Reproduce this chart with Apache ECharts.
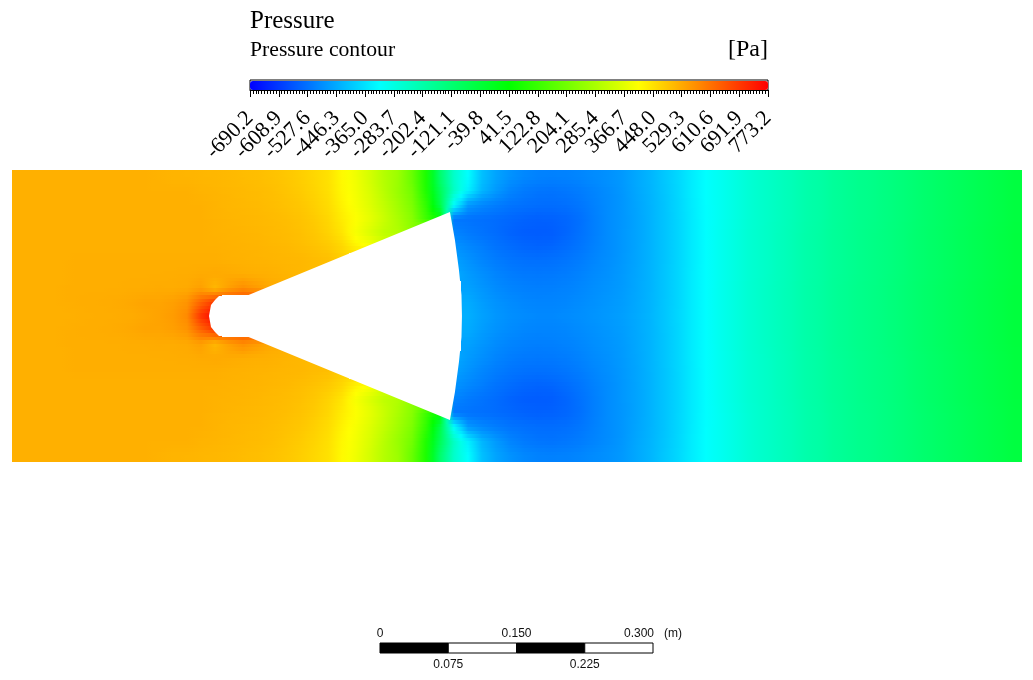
<!DOCTYPE html>
<html>
<head>
<meta charset="utf-8">
<title>Pressure contour</title>
<script src="https://cdn.jsdelivr.net/npm/echarts@6/dist/echarts.min.js"></script>
<style>
html,body{margin:0;padding:0;background:#fff;}
#main{width:1033px;height:680px;}
</style>
</head>
<body>
<div id="main"></div>
<script>
// colour bar
var pressureMin=-690.2;
var pressureMax=773.2;
var rainbow=['#0000ff','#00ffff','#00ff00','#ffff00','#ff0000'];
var tickLabels=['-690.2','-608.9','-527.6','-446.3','-365.0','-283.7','-202.4','-121.1','-39.8','41.5','122.8','204.1','285.4','366.7','448.0','529.3','610.6','691.9','773.2'];

// pressure, top half, top row first. null = inside the body
var row0=[520,520,520,520,520,520,520,520,520,520,
    518,515,514,512,510,508,504,500,495,488,
    478,465,450,415,385,345,300,265,190,80,
    -110,-250,-325,-415,-455,-480,-495,-503,-505,-503,
    -498,-490,-482,-470,-450,-430,-405,-380,-350,-325,
    -305,-285,-265,-250,-235,-222,-205,-195,-180,-170,
    -160,-152,-142,-132,-120,-110,-100,-90,-80,-70,
    -60,-50];
var row1=[520,520,520,520,520,520,520,520,520,520,
    520,520,520,516,514,511,508,504,500,492,
    482,470,452,418,390,352,305,260,205,85,
    -80,-240,-345,-430,-470,-500,-515,-522,-524,-520,
    -512,-500,-488,-474,-452,-432,-408,-382,-350,-325,
    -305,-285,-265,-250,-235,-222,-205,-195,-180,-170,
    -160,-152,-142,-132,-120,-110,-100,-90,-80,-70,
    -60,-50];
var row2=[520,520,520,520,520,520,520,520,520,520,
    520,520,520,520,516,512,509,506,502,496,
    488,476,458,425,395,360,318,272,220,110,
    -60,-320,-470,-495,-510,-522,-528,-533,-533,-530,
    -520,-505,-490,-475,-455,-434,-410,-383,-352,-325,
    -305,-285,-265,-250,-235,-222,-205,-195,-180,-170,
    -160,-152,-142,-132,-120,-110,-100,-90,-80,-70,
    -60,-50];
var row3=[520,520,520,520,520,520,520,520,520,520,
    520,520,520,520,517,514,512,509,506,501,
    494,482,465,435,405,372,330,285,235,130,
    40,-520,-525,-530,-535,-542,-548,-552,-550,-544,
    -530,-508,-490,-475,-457,-435,-410,-384,-353,-326,
    -305,-285,-265,-250,-235,-222,-205,-195,-180,-170,
    -160,-152,-142,-132,-120,-110,-100,-90,-80,-70,
    -60,-50];
var row4=[520,520,520,520,520,520,520,520,520,520,
    520,520,520,520,518,516,514,511,508,504,
    498,488,472,445,395,355,315,295,245,null,
    null,-500,-515,-525,-535,-548,-556,-558,-556,-545,
    -528,-508,-490,-474,-457,-435,-410,-384,-353,-326,
    -303,-283,-263,-248,-233,-220,-203,-193,-178,-168,
    -158,-150,-140,-130,-118,-108,-98,-88,-78,-68,
    -58,-48];
var row5=[520,520,520,520,520,520,520,520,520,520,
    520,520,520,520,520,518,516,514,511,508,
    503,495,485,465,425,400,350,null,null,null,
    null,-480,-495,-510,-525,-535,-544,-548,-545,-535,
    -522,-505,-490,-474,-456,-435,-410,-384,-353,-326,
    -303,-283,-263,-248,-233,-220,-203,-193,-178,-168,
    -158,-150,-140,-130,-118,-108,-98,-88,-78,-68,
    -58,-48];
var row6=[520,520,520,520,523,523,523,523,523,523,
    523,523,523,523,523,520,518,516,514,512,
    510,505,500,480,null,null,null,null,null,null,
    null,-460,-480,-498,-512,-522,-528,-530,-528,-522,
    -512,-498,-486,-472,-455,-434,-410,-384,-353,-326,
    -303,-283,-263,-248,-233,-220,-203,-193,-178,-168,
    -158,-150,-140,-130,-118,-108,-98,-88,-78,-68,
    -58,-48];
var row7=[520,520,520,520,524,524,524,524,524,524,
    524,525,526,528,530,528,525,522,520,515,
    510,505,null,null,null,null,null,null,null,null,
    null,-445,-468,-485,-500,-510,-516,-518,-516,-512,
    -503,-492,-482,-470,-453,-433,-409,-383,-352,-326,
    -303,-283,-263,-248,-233,-220,-203,-193,-178,-168,
    -158,-150,-140,-130,-118,-108,-98,-88,-78,-68,
    -58,-48];
var row8=[520,520,520,522,524,524,524,524,525,526,
    528,527,530,545,510,545,570,550,530,525,
    null,null,null,null,null,null,null,null,null,null,
    null,null,-458,-475,-490,-500,-506,-508,-507,-503,
    -496,-486,-478,-468,-452,-433,-409,-383,-352,-326,
    -301,-281,-261,-246,-231,-218,-201,-191,-176,-166,
    -156,-148,-138,-128,-116,-106,-96,-86,-76,-66,
    -56,-46];
var row9=[520,520,520,522,524,525,526,528,532,538,
    538,545,560,630,690,null,null,null,null,null,
    null,null,null,null,null,null,null,null,null,null,
    null,null,-445,-465,-480,-490,-497,-500,-500,-497,
    -490,-482,-474,-465,-450,-432,-408,-383,-352,-326,
    -301,-281,-261,-246,-231,-218,-201,-191,-176,-166,
    -156,-148,-138,-128,-116,-106,-96,-86,-76,-66,
    -56,-46];
var row10=[520,520,520,520,522,524,525,526,528,533,
    540,550,575,700,773,null,null,null,null,null,
    null,null,null,null,null,null,null,null,null,null,
    null,null,-438,-458,-474,-484,-490,-494,-494,-490,
    -484,-478,-470,-462,-448,-431,-407,-382,-352,-326,
    -301,-281,-261,-246,-231,-218,-201,-191,-176,-166,
    -156,-148,-138,-128,-116,-106,-96,-86,-76,-66,
    -56,-46];
// the flow is mirrored about the centre line
var fieldRows=[row0,row1,row2,row3,row4,row5,row6,row7,row8,row9,row10,row9,row8,row7,row6,row5,row4,row3,row2,row1,row0];

// body outline in metres, upper half from the nose to the back of the dome
var coneX=[0.2165,0.2187,0.2231,0.2275,0.2560,0.4813,0.4868,0.4912,0.4940,0.4945];
var coneY=[0,0.0121,0.0176,0.0220,0.0214,0.1143,0.0835,0.0505,0.0231,0];

// scale bar, metres
var scaleEdges=[0,0.075,0.15,0.225,0.3];
var scaleTopValues=[0,0.15,0.3];
var scaleTopLabels=['0','0.150','0.300   (m)'];
var scaleBottomValues=[0.075,0.225];
var scaleBottomLabels=['0.075','0.225'];

var serif='"Liberation Serif","Times New Roman",serif';
var sans='"Liberation Sans",Arial,sans-serif';

var heatData=[];
var colIndex=[];
fieldRows.forEach(function(row,r){
    row.forEach(function(v,c){
        if(v!==null){
            heatData.push([c,r,v]);
        }
    });
});
fieldRows[0].forEach(function(v,c){
    colIndex.push(c);
});
var rowIndex=fieldRows.map(function(row,r){
    return r;
});

var scaleData=[];
for(var i=0;i<scaleEdges.length-1;i++){
    scaleData.push([scaleEdges[i],scaleEdges[i+1]]);
}

// shading only: a cell next to the body borrows the nearest read value on its row
function readCell(c,r){
    var row=fieldRows[Math.max(0,Math.min(fieldRows.length-1,r))];
    var col=Math.max(0,Math.min(row.length-1,c));
    var step=col<31?-1:1;
    while(row[col]===null){
        col+=step;
    }
    return row[col];
}
// colour at a fractional cell position, blended from the four nearest cells
function shade(fc,fr){
    var c0=Math.floor(fc),r0=Math.floor(fr);
    var a=fc-c0,b=fr-r0;
    var top=readCell(c0,r0)*(1-a)+readCell(c0+1,r0)*a;
    var bottom=readCell(c0,r0+1)*(1-a)+readCell(c0+1,r0+1)*a;
    var v=top*(1-b)+bottom*b;
    return echarts.color.lerp((v-pressureMin)/(pressureMax-pressureMin),rainbow);
}

var myChart=echarts.init(document.getElementById('main'),null,{renderer:'canvas'});
var option={
    animation:false,
    backgroundColor:'#fff',
    title:[
        {text:'Pressure',left:250,top:9,padding:0,textStyle:{fontFamily:serif,fontSize:25,fontWeight:'normal',color:'#000'}},
        {text:'Pressure contour',left:250,top:39,padding:0,textStyle:{fontFamily:serif,fontSize:21.7,fontWeight:'normal',color:'#000'}},
        {text:'[Pa]',right:265,top:38,padding:0,textStyle:{fontFamily:serif,fontSize:24,fontWeight:'normal',color:'#000'}}
    ],
    visualMap:{
        type:'continuous',
        seriesIndex:0,
        dimension:2,
        min:pressureMin,
        max:pressureMax,
        orient:'horizontal',
        left:250,
        top:81,
        padding:0,
        itemWidth:9,
        itemHeight:518,
        calculable:false,
        hoverLink:false,
        text:null,
        showLabel:false,
        inRange:{color:rainbow}
    },
    grid:[
        {left:12,top:170,width:1010,height:292},
        {left:12,top:170,width:1010,height:292},
        {left:250,top:80,width:518,height:10,show:true,borderColor:'#000',borderWidth:1,backgroundColor:'transparent'},
        {left:380,top:643,width:273,height:10}
    ],
    xAxis:[
        {type:'category',gridIndex:0,data:colIndex,show:false},
        {type:'value',gridIndex:1,min:0,max:1.11,show:false},
        // ticks of the colour bar
        {
            type:'value',gridIndex:2,min:0,max:18,interval:1,position:'bottom',
            splitLine:{show:false},
            axisLine:{show:true,onZero:false,lineStyle:{color:'#000'}},
            axisTick:{show:true,length:7,lineStyle:{color:'#000'}},
            minorTick:{show:true,splitNumber:10,length:4,lineStyle:{color:'#000'}},
            axisLabel:{show:false}
        },
        {
            type:'value',gridIndex:3,min:0,max:0.3,position:'top',
            splitLine:{show:false},axisLine:{show:false},axisTick:{show:false},
            axisLabel:{
                customValues:scaleTopValues,margin:3,color:'#111',fontFamily:sans,fontSize:12,
                showMinLabel:true,showMaxLabel:true,
                formatter:function(v){
                    return scaleTopLabels[scaleTopValues.indexOf(v)];
                }
            }
        },
        {
            type:'value',gridIndex:3,min:0,max:0.3,position:'bottom',
            splitLine:{show:false},axisLine:{show:false},axisTick:{show:false},
            axisLabel:{
                customValues:scaleBottomValues,margin:6,color:'#111',fontFamily:sans,fontSize:12,
                formatter:function(v){
                    return scaleBottomLabels[scaleBottomValues.indexOf(v)];
                }
            }
        },
        // labels of the colour bar, category axis so that none is dropped
        {
            type:'category',gridIndex:2,data:tickLabels,boundaryGap:false,position:'bottom',
            axisLine:{show:false},axisTick:{show:false},splitLine:{show:false},
            axisLabel:{
                interval:0,rotate:45,margin:25,color:'#000',fontFamily:serif,fontSize:22,hideOverlap:false
            }
        }
    ],
    yAxis:[
        {type:'category',gridIndex:0,data:rowIndex,inverse:true,show:false},
        {type:'value',gridIndex:1,min:-0.1604,max:0.1604,show:false},
        {type:'value',gridIndex:2,min:0,max:1,show:false},
        {type:'value',gridIndex:3,min:0,max:1,show:false}
    ],
    series:[
        {
            type:'custom',
            xAxisIndex:0,
            yAxisIndex:0,
            data:heatData,
            encode:{x:0,y:1},
            progressive:0,
            silent:true,
            clip:true,
            renderItem:function(params,api){
                var c=api.value(0);
                var r=api.value(1);
                var mid=api.coord([c,r]);
                var size=api.size([1,1]);
                var slices=4;
                var left=Math.round(mid[0]-size[0]/2);
                var right=Math.round(mid[0]+size[0]/2);
                var top=mid[1]-size[1]/2;
                var children=[];
                for(var k=0;k<slices;k++){
                    var fr=r-0.5+(k+0.5)/slices;
                    var y0=Math.round(top+k*size[1]/slices);
                    var y1=Math.round(top+(k+1)*size[1]/slices);
                    children.push({
                        type:'rect',
                        shape:{x:left,y:y0,width:right-left,height:y1-y0},
                        style:{
                            fill:{
                                type:'linear',x:0,y:0,x2:1,y2:0,
                                colorStops:[
                                    {offset:0,color:shade(c-0.5,fr)},
                                    {offset:0.5,color:shade(c,fr)},
                                    {offset:1,color:shade(c+0.5,fr)}
                                ]
                            }
                        }
                    });
                }
                return {type:'group',children:children};
            }
        },
        {
            type:'custom',
            xAxisIndex:1,
            yAxisIndex:1,
            data:[0],
            z:5,
            silent:true,
            clip:false,
            renderItem:function(params,api){
                var pts=[];
                var i;
                for(i=0;i<coneX.length;i++){
                    pts.push(api.coord([coneX[i],coneY[i]]));
                }
                for(i=coneX.length-2;i>0;i--){
                    pts.push(api.coord([coneX[i],-coneY[i]]));
                }
                return {type:'polygon',shape:{points:pts},style:{fill:'#fff'}};
            }
        },
        {
            type:'custom',
            xAxisIndex:3,
            yAxisIndex:3,
            data:scaleData,
            silent:true,
            renderItem:function(params,api){
                var a=api.coord([api.value(0),1]);
                var b=api.coord([api.value(1),0]);
                return {
                    type:'rect',
                    shape:{x:a[0],y:a[1],width:b[0]-a[0],height:b[1]-a[1]},
                    style:{fill:params.dataIndex%2==0?'#000':'#fff',stroke:'#000',lineWidth:1}
                };
            },
            encode:{x:[0,1]}
        }
    ]
};
myChart.setOption(option);
</script>
</body>
</html>
